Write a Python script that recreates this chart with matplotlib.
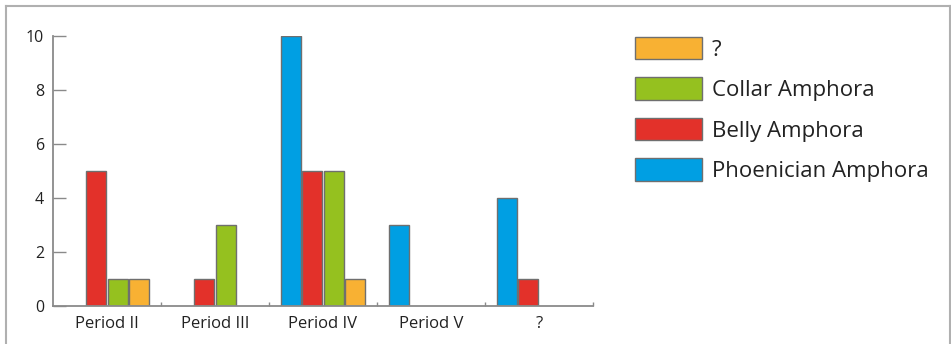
import numpy as np
import matplotlib.pyplot as plt
from matplotlib.lines import Line2D

plt.rcParams['font.family'] = ['Open Sans', 'DejaVu Sans']

periods = ['Period II', 'Period III', 'Period IV', 'Period V', '?']
series = ['Phoenician Amphora', 'Belly Amphora', 'Collar Amphora', '?']
phoenician = [0, 0, 10, 3, 4]
belly = [5, 1, 5, 0, 1]
collar = [1, 3, 5, 0, 0]
unknown = [1, 0, 1, 0, 0]
colors = ['#009fe3', '#e3312a', '#95c11f', '#f8b133']

fig = plt.figure(figsize=(9.51, 3.44), dpi=100)
ax = fig.add_axes([53 / 951, 38 / 344, 540 / 951, 270 / 344])

x = np.arange(len(periods)) + 0.5
step = 21.5 / 108
width = 20 / 108
handles = []
for k, (vals, name, col) in enumerate(zip([phoenician, belly, collar, unknown], series, colors)):
    vals = np.array(vals, dtype=float)
    pos = x + (k - 1.5) * step
    mask = vals > 0
    b = ax.bar(pos[mask], vals[mask], width, color=col, edgecolor='#6f6f6f',
               linewidth=1.0, label=name)
    handles.append(b)

ax.set_xlim(0, len(periods))
ax.set_ylim(0, 10)
ax.set_yticks([0, 2, 4, 6, 8, 10])
ax.set_xticks(x)
ax.set_xticklabels(periods)
ax.set_xticks(np.arange(1, len(periods) + 1), minor=True)
ax.tick_params(axis='y', direction='in', length=9.5, width=1, color='#8a8a8a',
               pad=6.5, labelsize=11.5, labelcolor='#222222')
ax.tick_params(axis='x', which='major', length=0, pad=7, labelsize=12,
               labelcolor='#222222')
ax.tick_params(axis='x', which='minor', direction='in', length=3, width=1,
               color='#8a8a8a')
for s in ['top', 'right']:
    ax.spines[s].set_visible(False)
for s in ['left', 'bottom']:
    ax.spines[s].set_color('#8a8a8a')
    ax.spines[s].set_linewidth(1.3)

fs = 16
fpx = fs * 100 / 72
fig.legend(handles[::-1], series[::-1], loc='upper left',
           bbox_to_anchor=(635 / 951, (344 - 37) / 344), frameon=False,
           fontsize=fs, handlelength=67 / fpx, handleheight=26 / fpx,
           labelspacing=16.8 / fpx, handletextpad=10 / fpx, borderpad=0,
           borderaxespad=0, labelcolor='#222222')

# frame around the figure
bc = '#b0b0b0'
fig.add_artist(Line2D([5.5 / 951, 5.5 / 951], [0, 1 - 6 / 344], color=bc, lw=1.5))
fig.add_artist(Line2D([5.5 / 951, 950 / 951], [1 - 6 / 344, 1 - 6 / 344], color=bc, lw=1.5))
fig.add_artist(Line2D([950 / 951, 950 / 951], [0, 1 - 6 / 344], color=bc, lw=1.5))

fig.savefig('out.png', dpi=100)
